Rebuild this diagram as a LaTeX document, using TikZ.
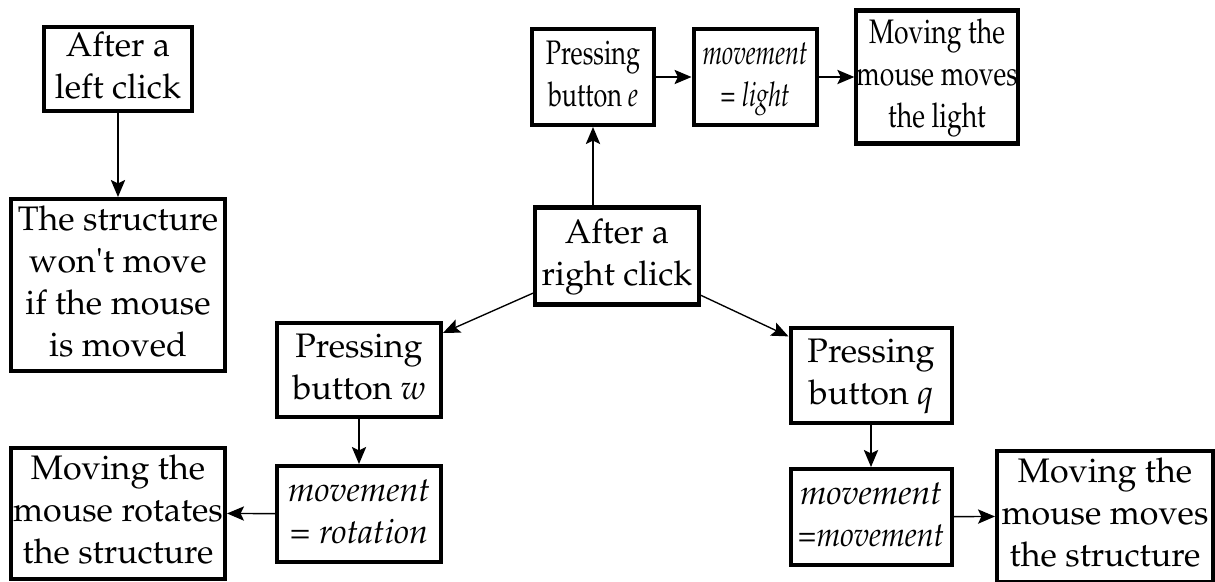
\documentclass[tikz,border=0pt]{standalone}
\usepackage[T1]{fontenc}
\usepackage{textcomp}
\usepackage{mathpazo}
\usepackage{graphicx}
\usetikzlibrary{arrows.meta}
\newcommand\pxu{0.294pt}
\newcommand\cell[1]{\begin{tabular}{@{}c@{}}#1\end{tabular}}
\newcommand\squash[2]{\scalebox{#1}[1]{\cell{#2}}}
\begin{document}
\begin{tikzpicture}[x=0.294pt,y=-0.294pt,
  box/.style={draw, line width=1.18pt, inner sep=0pt, fill=white, font=\fontsize{10}{12.4}\selectfont},
  arr/.style={-{Stealth[length=5pt,width=4.2pt,inset=1pt]}, line width=0.4pt}]
\useasboundingbox (0,0) rectangle (1215,581);
\node[box, minimum width=148*\pxu, minimum height=80*\pxu] (leftclick) at (118,69) {\cell{After a\\left click}};
\node[box, minimum width=214*\pxu, minimum height=172*\pxu] (structure) at (118,285) {\cell{The structure\\won\textquotesingle t move\\if the mouse\\is moved}};
\node[box, minimum width=122*\pxu, minimum height=96*\pxu] (pressE) at (593,77) {\squash{0.74}{Pressing\\button \textit{e}}};
\node[box, minimum width=123*\pxu, minimum height=96*\pxu] (light) at (755,77) {\squash{0.74}{\textit{movement}\\= \textit{light}}};
\node[box, minimum width=161*\pxu, minimum height=133*\pxu] (movLight) at (937,77) {\squash{0.78}{Moving the\\mouse moves\\the light}};
\node[box, minimum width=164*\pxu, minimum height=97*\pxu] (rightclick) at (617,256) {\cell{After a\\right click}};
\node[box, minimum width=164*\pxu, minimum height=94*\pxu] (pressW) at (359,370) {\cell{Pressing\\button \textit{w}}};
\node[box, minimum width=164*\pxu, minimum height=96*\pxu] (rotation) at (359,514) {\cell{\textit{movement}\\= \textit{rotation}}};
\node[box, minimum width=214*\pxu, minimum height=131*\pxu] (rotates) at (118,513) {\cell{Moving the\\mouse rotates\\the structure}};
\node[box, minimum width=161*\pxu, minimum height=95*\pxu] (pressQ) at (871,375) {\cell{Pressing\\button \textit{q}}};
\node[box, minimum width=161*\pxu, minimum height=96*\pxu] (mvmt) at (871,517) {\cell{\textit{movement}\\\scalebox{0.9}[1]{=\textit{movement}}}};
\node[box, minimum width=216*\pxu, minimum height=131*\pxu] (structMoves) at (1105,516) {\cell{Moving the\\mouse moves\\the structure}};
\draw[arr] (leftclick) -- (structure);
\draw[arr] (rightclick.north -| pressE.south) -- (pressE.south);
\draw[arr] (pressE) -- (light);
\draw[arr] (light) -- (movLight);
\draw[arr] (rightclick) -- (pressW);
\draw[arr] (rightclick) -- (pressQ);
\draw[arr] (pressW) -- (rotation);
\draw[arr] (rotation) -- (rotates);
\draw[arr] (pressQ) -- (mvmt);
\draw[arr] (mvmt) -- (structMoves);
\end{tikzpicture}
\end{document}
